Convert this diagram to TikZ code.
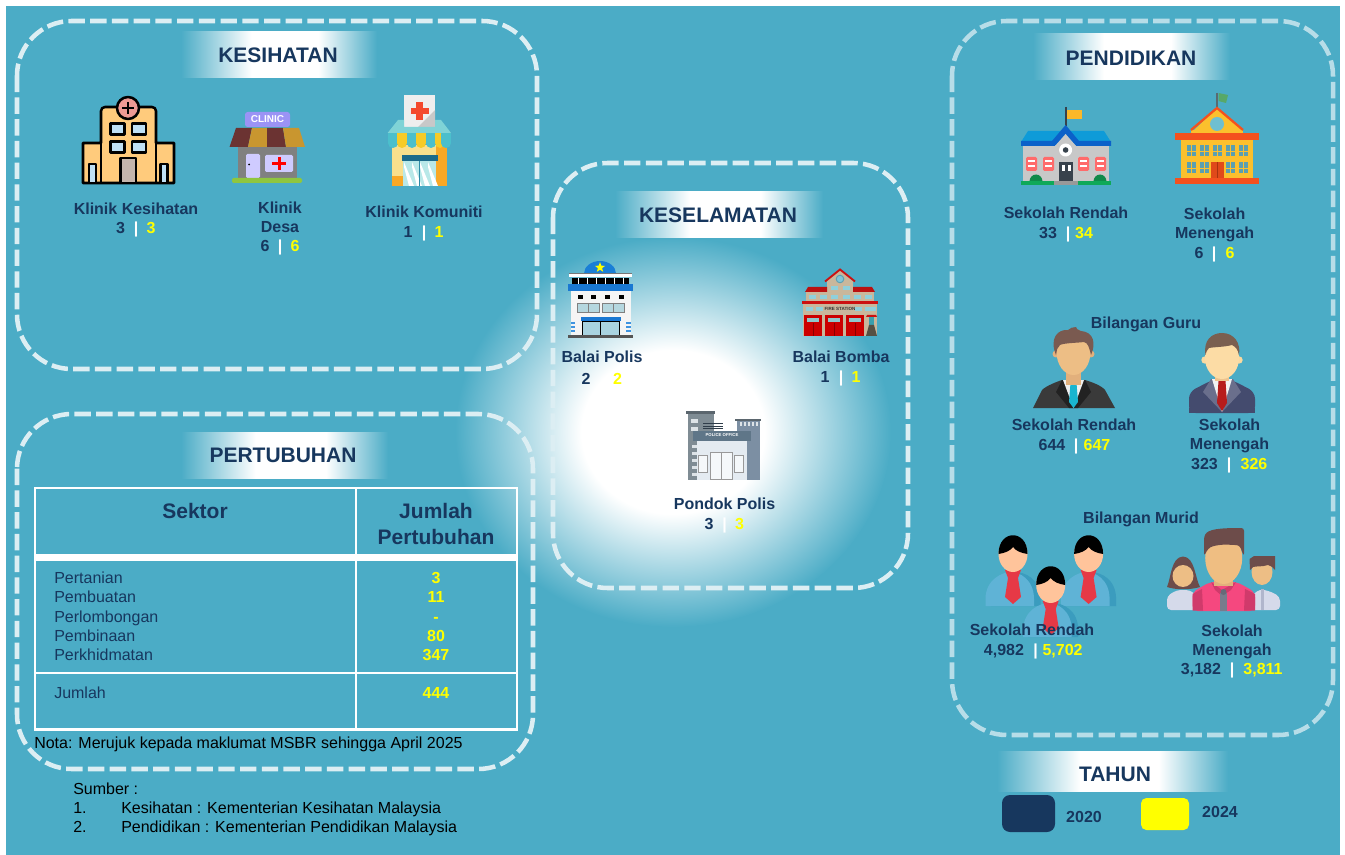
\documentclass[tikz,border=0pt]{standalone}
\usepackage{fontspec}
\setmainfont{Liberation Sans}
\usetikzlibrary{shapes.geometric}
\definecolor{bg}{HTML}{4BACC6}
\definecolor{navy}{HTML}{17375E}
\definecolor{yel}{HTML}{FFFF00}
\definecolor{dashA}{HTML}{DCEEF3}
\definecolor{dashB}{HTML}{B7DDE8}
\pgfdeclareradialshading{glow}{\pgfpoint{0bp}{0bp}}{color(0bp)=(white); color(10.5bp)=(white); color(16bp)=(white!62!bg); color(25bp)=(bg); color(50bp)=(bg)}
\pgfdeclarehorizontalshading{band}{100bp}{color(0bp)=(bg); color(25bp)=(bg); color(43bp)=(white); color(60bp)=(white); color(75bp)=(bg); color(100bp)=(bg)}
\tikzset{
  panel/.style={draw=dashA,line width=3.4pt,rounded corners=41pt,dash pattern=on 12.3pt off 4pt},
  bandbox/.style={shading=band,shading angle=0},
  head/.style={font=\bfseries\fontsize{15.75}{18}\selectfont,text=navy,inner sep=0pt,anchor=center},
  lab/.style={font=\bfseries\fontsize{12}{14.25}\selectfont,text=navy,inner sep=0pt,align=center,text depth=0pt,anchor=south},
  tab/.style={font=\fontsize{12}{14.25}\selectfont,text=navy,inner sep=0pt,text depth=0pt,anchor=south west},
  blk/.style={tab,text=black},
  valA/.style={lab},
  valB/.style={lab,text=yel},
  sepbar/.style={lab,text=white},
  thead/.style={font=\bfseries\fontsize{15.75}{19.5}\selectfont,text=navy,inner sep=0pt,align=center,text depth=0pt,anchor=south},
  tline/.style={draw=white,line width=2.2pt},
  outl/.style={draw=black,line width=1.9pt,line join=round},
  HTML/.code={\definecolor{tmpc}{HTML}{#1}\tikzset{color=tmpc}},
}
\newcommand{\cntline}[8]{% name, y, xa, a, xbar, xb, b, unused
  \node[valA] (#1a) at (#3,#2+5.7) {#4};
  \node[sepbar] (#1s) at (#5,#2+5.7) {|};
  \node[valB] (#1b) at (#6,#2+5.7) {#7};}
\newcommand{\student}[2]{%
 \begin{scope}[shift={(#1,#2)}]
  \fill[HTML=3B9CBE] (-22.5,52) -- (-22.5,45) .. controls (-22.5,25) and (-7,18) .. (2,18) .. controls (12,18) and (27.5,25) .. (27.5,45) -- (27.5,52) -- cycle;
  \fill[HTML=5FB3D6] (-27.5,52) -- (-27.5,45) .. controls (-27.5,25) and (-10,18) .. (-2,18) .. controls (6,18) and (21,25) .. (21,45) -- (21,52) -- cycle;
  \fill[HTML=E63946] (-8,16) -- (8,16) -- (5,24) -- (8,43) -- (0,50) -- (-8,43) -- (-5,24) -- cycle;
  \fill[HTML=FFC49B] (0,0) ellipse (14.5 and 18);
  \fill[black] (-14.5,0) .. controls (-14.5,-25) and (14.5,-25) .. (14.5,0) .. controls (8,-1) and (3,-3) .. (0,-7) .. controls (-3,-3) and (-8,-1) .. (-14.5,0) -- cycle;
 \end{scope}}
\begin{document}
\begin{tikzpicture}[x=0.75pt,y=-0.75pt]
\useasboundingbox (0,0) rectangle (1345,855);
\fill[white] (0,0) rectangle (1345,855);
\fill[bg] (6,6) rectangle (1340,855);
\path[shading=glow] (673,432) ellipse (218 and 195);
% panels
\draw[panel] (17,21) rectangle (537,369);
\draw[panel] (17,414) rectangle (533,769);
\draw[panel] (553,163) rectangle (908,588);
\draw[panel,draw=dashB] (952,21) rectangle (1333,735);
% title bands
\path[bandbox] (181,32) rectangle (377,78);
\path[bandbox] (181,432) rectangle (388,478);
\path[bandbox] (615,192) rectangle (823,238);
\path[bandbox] (1033,34) rectangle (1230,80);
\path[bandbox] (997,751) rectangle (1228,791);
\node[head] (tKes) at (278,55) {KESIHATAN};
\node[head] (tPer) at (283,455) {PERTUBUHAN};
\node[head] (tSel) at (718,215) {KESELAMATAN};
\node[head] (tPen) at (1131,58) {PENDIDIKAN};
\node[head] (tTah) at (1115,774) {TAHUN};

% ---------- hospital
\fill[HTML=FFCB7C,outl] (83,183) -- (83,143) -- (101,143) -- (101,115) [rounded corners=3pt] -- (101,107) -- (156,107) [sharp corners] -- (156,143) -- (174,143) -- (174,183) -- cycle;
\draw[outl] (101,143) -- (101,183) (156,143) -- (156,183);
\fill[HTML=EE9A94,outl] (128,108) circle (11);
\draw[outl] (128,102) -- (128,114) (122,108) -- (134,108);
\foreach \wx in {117.5,139}\foreach \wy in {129,147}{\fill[HTML=BFE0F5,outl] (\wx-7,\wy-5.5) rectangle (\wx+7,\wy+5.5);}
\fill[HTML=C4B5AC,outl] (120.5,158) rectangle (136,183);
\fill[HTML=BFE0F5,outl] (89,164) rectangle (96,183);
\fill[HTML=BFE0F5,outl] (160.5,164) rectangle (167.5,183);

% ---------- clinic
\fill[HTML=9B93F5,rounded corners=2pt] (245,112) rectangle (290,127);
\node[font=\bfseries\fontsize{7.5}{9}\selectfont,text=white,inner sep=0pt] (clinicTxt) at (267.5,119.5) {CLINIC};
\fill[HTML=808080] (238,147) rectangle (296.5,178);
\foreach \a/\b/\c/\d/\e in {236/252/229.5/248/6B3332,252/267/248/267/C9962F,267/283/267/286/6B3332,283/299/286/305/C9962F}{
  \fill[HTML=\e] (\a,128) -- (\b,128) -- (\d,147) -- (\c,147) -- cycle;}
\fill[HTML=CFCBFF,rounded corners=1pt] (246,154) rectangle (260,178);
\fill[black] (249,164.5) circle (1);
\fill[HTML=CFCBFF,rounded corners=1pt] (265,155) rectangle (293,172);
\fill[red] (277.5,157) rectangle (280.5,170);
\fill[red] (272,162) rectangle (286,165);
\fill[HTML=8FC63F,rounded corners=1pt] (232,178) rectangle (302,183);

% ---------- community clinic
\fill[HTML=F9DF8C] (392,145) rectangle (447,186);
\fill[HTML=F9A825] (392,176) rectangle (403,186);
\fill[HTML=F9A825] (436,145) -- (447,145) -- (447,186) -- (436,186) -- cycle;
\fill[HTML=EEEEEE] (404,95) rectangle (435,127);
\fill[HTML=C8C8C8] (435,110) -- (435,127) -- (418,127) -- cycle;
\fill[HTML=F4492D] (416,102) rectangle (423,120);
\fill[HTML=F4492D] (410.5,108) rectangle (428.5,114);
\fill[HTML=7FD3D6] (398,120) -- (404,120) -- (404,127) -- (435,127) -- (435,120) -- (441,120) -- (451,133) -- (387.6,133) -- cycle;
\foreach \sx/\sc in {393/4BBFCC,402/F6CB27,412/4BBFCC,421/F6CB27,431/4BBFCC,440/F6CB27,446/4BBFCC}{
  \fill[HTML=\sc] (\sx-5,133) rectangle (\sx+5,143);
  \fill[HTML=\sc] (\sx,143) circle (5);}
\fill[HTML=B9E8E8] (403,155) rectangle (436,186);
\foreach \sx in {404,412,420,428}{\fill[white] (\sx,167) -- (\sx+5,186) -- (\sx+10,186) -- (\sx,162) -- cycle;}
\draw[HTML=2D8CA8,line width=.6pt] (419.5,160) -- (419.5,186);
\fill[HTML=1C6A8A] (401.5,155) rectangle (437.5,161);

% ---------- police station
\fill[HTML=1A7FD6] (584,273.5) arc[start angle=180,end angle=360,x radius=16,y radius=12.5];
\node[star,star points=5,star point ratio=2.4,fill=yel,minimum size=8pt,inner sep=0pt] (starP) at (600,267.5) {};
\fill[HTML=F5F5F5] (571,291) rectangle (631,335);
\fill[white] (569,273) rectangle (632,277);
\fill[HTML=777777] (569,273) rectangle (632,274);
\fill[black] (572,278) rectangle (629,284);
\foreach \wx in {578,587,596.5,605,614,623}{\draw[white,line width=.5pt] (\wx,278) -- (\wx,284);}
\fill[HTML=1A78D2] (568,284) rectangle (633,291);
\foreach \wx in {580,593,607,621}{\fill[black] (\wx-2.5,295) rectangle (\wx+2.5,299.5);}
\foreach \xa/\xb in {577/599,602/624}{\fill[HTML=B5D7DF,draw=gray,line width=.5pt] (\xa,303) rectangle (\xb,312);\draw[gray,line width=.5pt] ({(\xa+\xb)/2},303) -- ({(\xa+\xb)/2},312);}
\fill[HTML=A9D3E0,draw=black,line width=.6pt] (582,321) rectangle (619,335);
\draw[black,line width=.6pt] (600.5,321) -- (600.5,335);
\fill[HTML=1A78D2] (581,317) rectangle (621,321);
\foreach \ty in {322,326,330}{\fill[HTML=3F94E0] (570.5,\ty) rectangle (575,\ty+2);\fill[HTML=3F94E0] (626,\ty) rectangle (630.5,\ty+2);}
\fill[HTML=555555] (568,335) rectangle (633,338);

% ---------- fire station
\fill[HTML=C9B79C] (827,281) -- (840,270) -- (853,281) -- (853,295) -- (827,295) -- cycle;
\draw[HTML=CC1111,line width=1.4pt] (825,281.5) -- (840,269.5) -- (855,281.5);
\draw[HTML=5AA0B5,fill=bg!70!white,line width=.7pt] (840,279) circle (3.8);
\fill[HTML=C9B79C] (806,292) rectangle (874,304);
\fill[HTML=C9B79C] (827,284) rectangle (853,292);
\fill[HTML=BB1111] (805,292) -- (808,287) -- (827,287) -- (827,292) -- cycle;
\fill[HTML=BB1111] (875,292) -- (872,287) -- (853,287) -- (853,292) -- cycle;
\foreach \wx in {812,823,834,846,857,868}{\fill[HTML=8FD0DC] (\wx-3.5,295) rectangle (\wx+3.5,299.5);}
\foreach \wx in {834,846}{\fill[HTML=8FD0DC] (\wx-3.5,286) rectangle (\wx+3.5,290);}
\fill[HTML=C9B79C] (803,304) rectangle (877,336);
\fill[HTML=CC1111] (802,301) rectangle (878,304);
\foreach \wx in {809,819,858,868,872}{\fill[HTML=8FD0DC] (\wx-3.5,307) rectangle (\wx+3.5,311);}
\node[font=\bfseries\fontsize{3.4}{4}\selectfont,text=black!80,inner sep=0pt] (fireTxt) at (840,309.3) {FIRE STATION};
\foreach \dx in {804,825,846}{\fill[HTML=CC0000] (\dx,315) rectangle (\dx+18,336);\fill[HTML=8FC8CC] (\dx+3,318) rectangle (\dx+15,322);\draw[HTML=880000,line width=.4pt] (\dx+9,323) -- (\dx+9,336);}
\fill[HTML=CC1111] (866,317) -- (867,315) -- (876,315) -- (877,317) -- cycle;
\fill[HTML=3AA0AE] (869,317) rectangle (874,325);
\fill[HTML=555044] (866,336) -- (869,325) -- (874,325) -- (877,336) -- cycle;

% ---------- police post
\fill[HTML=7F8C94] (688,413) rectangle (714,480);
\fill[HTML=5B666E] (686,411) rectangle (715,414);
\fill[HTML=DDE3E7] (691,419) rectangle (698,423);
\fill[HTML=DDE3E7] (691,427) rectangle (698,431);
\foreach \ty in {445,452,459,466,473}{\fill[HTML=DDE3E7] (692,\ty) rectangle (697,\ty+3);}
\fill[HTML=7C8FA3] (737,420) rectangle (760,480);
\fill[HTML=5B666E] (735,419) rectangle (761,421);
\foreach \wx in {740,744,748,752,756}{\fill[HTML=DDE3E7] (\wx,422) rectangle (\wx+2,426);}
\foreach \ty in {423,425.5,428,430.5}{\fill[HTML=2F3D4A] (703,\ty) rectangle (723,\ty+1.4);}
\fill[HTML=E4EBF1] (697,440) rectangle (747,480);
\fill[HTML=5F7688] (693,431) rectangle (751,441);
\node[font=\bfseries\fontsize{3.2}{4}\selectfont,text=white,inner sep=0pt] (policeTxt) at (722,435.5) {POLICE OFFICE};
\fill[HTML=F5F8FA,draw=gray!80,line width=.7pt] (710,452) rectangle (732,479);
\draw[gray!80,line width=.7pt] (721,452) -- (721,479);
\fill[HTML=F5F8FA,draw=gray!80,line width=.7pt] (698.5,455) rectangle (707.5,472);
\fill[HTML=F5F8FA,draw=gray!80,line width=.7pt] (734.5,455) rectangle (743.5,472);

% ---------- primary school
\fill[HTML=C8C8C8] (1023,145) rectangle (1109,182);
\draw[HTML=37424C,line width=1.4pt] (1065.6,107) -- (1065.6,126);
\fill[HTML=FBB829] (1067,110) rectangle (1082,119);
\fill[HTML=0E9BD8] (1028,131) -- (1104,131) -- (1111,142) -- (1021,142) -- cycle;
\fill[HTML=0B61C9] (1021,141) -- (1052,141) -- (1065.6,125) -- (1079,141) -- (1111,141) -- (1111,146) -- (1076,146) -- (1065.6,134) -- (1055,146) -- (1021,146) -- cycle;
\fill[HTML=C8C8C8] (1055,146) -- (1065.6,134) -- (1076,146) -- cycle;
\fill[white] (1065.6,150) circle (6.5);
\fill[HTML=37424C] (1065.6,150) circle (2.8);
\foreach \xa in {1026,1043,1078,1095}{\fill[HTML=FF6B6B,rounded corners=1pt] (\xa,157) rectangle (\xa+11,171);\fill[white] (\xa+2,160) rectangle (\xa+9,162.5);\fill[white] (\xa+2,165) rectangle (\xa+9,167.5);}
\fill[HTML=38424C] (1059,162) rectangle (1073,181);
\fill[white] (1061.5,165) rectangle (1064.5,171);
\fill[white] (1067.5,165) rectangle (1070.5,171);
\fill[HTML=999999] (1054,181) rectangle (1078,185);
\foreach \bx in {1036,1100}{\fill[HTML=0F8A4A] (\bx-6.5,181.5) arc[start angle=180,end angle=360,x radius=6.5,y radius=7];}
\fill[HTML=0FA958] (1021,181) rectangle (1054,185);
\fill[HTML=0FA958] (1078,181) rectangle (1111,185);

% ---------- secondary school
\draw[HTML=5A6A70,line width=1.2pt] (1217,93) -- (1217,108);
\fill[HTML=57A868] (1218.5,93) -- (1228,95) -- (1226,103) -- (1218.5,101) -- cycle;
\fill[HTML=FBC02D] (1217,108) -- (1243,130) -- (1191,133) -- cycle;
\fill[HTML=FBC02D] (1191,130) -- (1243,130) -- (1243,133) -- (1191,133) -- cycle;
\draw[HTML=F4511E,line width=1.7pt] (1191,130) -- (1217,108) -- (1243,130);
\fill[HTML=6FBFD0] (1217,124) circle (7);
\fill[HTML=FBC02D] (1180.5,140) rectangle (1253,178);
\fill[HTML=F4511E] (1175,133) rectangle (1259,140);
\fill[HTML=F4511E] (1175,178) rectangle (1259,184);
\foreach \wx in {1191,1204,1217,1230,1243}{\foreach \wy in {151,168}{
  \fill[HTML=5A9FB0] (\wx-4.5,\wy-5.5) rectangle (\wx+4.5,\wy+5.5);\draw[HTML=FBC02D,line width=.4pt] (\wx,\wy-5.5) -- (\wx,\wy+5.5) (\wx-4.5,\wy) -- (\wx+4.5,\wy);}}
\fill[HTML=E04A1A] (1210.5,162) rectangle (1224,178);
\draw[HTML=A8330F,line width=.4pt] (1217,162) -- (1217,178);

% ---------- teacher 1
\fill[HTML=3A3A3A] (1033,408) -- (1042,390) .. controls (1046,386) and (1056,382) .. (1062,380) -- (1085,380) .. controls (1092,382) and (1102,386) .. (1105,390) -- (1115,408) -- cycle;
\fill[HTML=222222] (1062,380) -- (1056,392) -- (1069,408) -- (1078,408) -- (1091,392) -- (1085,380) -- cycle;
\fill[HTML=EFEFEF] (1063,380) -- (1084,380) -- (1073.5,408) -- cycle;
\fill[HTML=19B5D0] (1070.5,383) -- (1076.5,383) -- (1078,402) -- (1073.5,408) -- (1069,402) -- cycle;
\fill[HTML=E2B07C] (1066,370) rectangle (1081,385);
\fill[HTML=E2B07C] (1056,354) circle (3.5);
\fill[HTML=E2B07C] (1091,354) circle (3.5);
\fill[HTML=EDBE85] (1073.5,352) ellipse (17 and 23);
\fill[HTML=7A5A50] (1056,355) .. controls (1049,338) and (1058,329) .. (1068,330) .. controls (1070,328) and (1073,327) .. (1076,327) .. controls (1076,329) and (1077,329) .. (1081,331) .. controls (1094,332) and (1096,344) .. (1091,355) .. controls (1089,347) and (1088,343) .. (1084,342) .. controls (1076,343) and (1064,343) .. (1060,345) .. controls (1057,347) and (1057,350) .. (1056,355) -- cycle;

% ---------- teacher 2
\fill[HTML=444B6E,rounded corners=5pt] (1189,413) -- (1189,392) -- (1212,380) -- (1232,380) -- (1255,392) -- (1255,413) -- cycle;
\fill[HTML=444B6E] (1189,408) rectangle (1255,413);
\fill[HTML=6A6F8C] (1211,379) -- (1203,392) -- (1222,412) -- (1241,392) -- (1233,379) -- cycle;
\fill[HTML=F2F2F2] (1212,379) -- (1232,379) -- (1222,412) -- cycle;
\fill[HTML=B71C1C] (1218.5,381) -- (1225.5,381) -- (1227,403) -- (1222,411) -- (1217,403) -- cycle;
\fill[HTML=EDC48E] (1215,370) rectangle (1229,381);
\fill[HTML=FAD9A0] (1205,360) circle (3.7);
\fill[HTML=FAD9A0] (1239,360) circle (3.7);
\fill[HTML=FCDCA5] (1222,358) ellipse (17 and 21);
\fill[HTML=7A5F50] (1205.5,355) .. controls (1203,340) and (1212,333) .. (1222,333) .. controls (1234,333) and (1241,343) .. (1239,355) .. controls (1238,350) and (1236,347) .. (1232,345) .. controls (1225,347) and (1214,347) .. (1209,348) .. controls (1207,350) and (1206,352) .. (1205.5,355) -- cycle;

% ---------- students
\student{1013}{554}
\student{1088.6}{554}
\student{1050.7}{585}

% ---------- family
\fill[HTML=D5DAEA,rounded corners=3pt] (1167,610) -- (1167,596) -- (1177,590) -- (1190,590) -- (1197,596) -- (1197,610) -- cycle;
\fill[HTML=D5DAEA,rounded corners=3pt] (1250,610) -- (1250,597) -- (1260,589) -- (1272,592) -- (1280,597) -- (1280,610) -- cycle;
\fill[HTML=B0B6CC] (1261,589) rectangle (1264,610);
\fill[HTML=6D4C4A] (1167,587) .. controls (1171,578) and (1171,557) .. (1183,556.5) .. controls (1195,557) and (1195,578) .. (1200,587) .. controls (1190,590) and (1176,590) .. (1167,587) -- cycle;
\fill[HTML=EDBE85] (1183,576) ellipse (10.5 and 11);
\fill[HTML=EDBE85] (1262,572) ellipse (10.5 and 13);
\fill[HTML=6D4C4A] (1250,570) -- (1249.5,559) -- (1254,556) -- (1275,556) -- (1275,570) .. controls (1272,566) and (1270,566) .. (1268,565) .. controls (1262,567) and (1256,566) .. (1253,567) -- cycle;
\fill[HTML=F5487F,rounded corners=4pt] (1192.5,611) -- (1192.5,592) -- (1210,582) -- (1237,582) -- (1255,592) -- (1255,611) -- cycle;
\fill[HTML=D03A6B] (1192.5,610.5) -- (1192.5,594) -- (1202,589) -- (1203,610.5) -- cycle;
\fill[HTML=D03A6B] (1255,610.5) -- (1255,594) -- (1245,589) -- (1244,610.5) -- cycle;
\fill[HTML=D03A6B] (1211,582) -- (1222,590) -- (1236,582) -- (1231,590) -- (1222,596) -- (1215,590) -- cycle;
\fill[HTML=777C8C] (1220,593) rectangle (1227,610.5);
\fill[HTML=666A78] (1223.5,592) circle (3);
\fill[HTML=E2B07C] (1214,575) rectangle (1233,586);
\fill[HTML=EFBE82] (1223.7,558) ellipse (18.5 and 26);
\fill[HTML=6D4C4A,rounded corners=2pt] (1204,556) -- (1204,537) .. controls (1208,529) and (1220,528) .. (1244,528) -- (1244,556) -- (1242,552) .. controls (1240,545) and (1236,545) .. (1232,545) .. controls (1222,544) and (1212,546) .. (1208,549) -- cycle;

% ---------- labels: KESIHATAN
\node[lab] (l1) at (136,214.7) {Klinik Kesihatan};
\cntline{c1}{228}{120.6}{3}{136}{151}{3}{}
\node[lab] (l2) at (280,233.2) {Klinik\\Desa};
\cntline{c2}{246.5}{265}{6}{280}{295}{6}{}
\node[lab] (l3) at (424,217.7) {Klinik Komuniti};
\cntline{c3}{232}{408}{1}{424}{439}{1}{}
% KESELAMATAN
\node[lab] (l4) at (602,362.7) {Balai Polis};
\node[valA] (c4a) at (586,384.7) {2};
\node[valB] (c4b) at (617.5,384.7) {2};
\node[lab] (l5) at (841,362.7) {Balai Bomba};
\cntline{c5}{377.5}{825}{1}{841}{856}{1}{}
\node[lab] (l6) at (724.5,509.7) {Pondok Polis};
\cntline{c6}{524.5}{709}{3}{724.6}{739.5}{3}{}
% PENDIDIKAN
\node[lab] (l7) at (1066,218.7) {Sekolah Rendah};
\cntline{c7}{233}{1048}{33}{1068}{1084}{34}{}
\node[lab] (l8) at (1214.6,238.7) {Sekolah\\Menengah};
\cntline{c8}{253}{1199}{6}{1214}{1230}{6}{}
\node[lab] (g1) at (1146,329) {Bilangan Guru};
\node[lab] (l9) at (1074,431) {Sekolah Rendah};
\cntline{c9}{445}{1052}{644}{1076}{1097}{647}{}
\node[lab] (l10) at (1229.5,450) {Sekolah\\Menengah};
\cntline{c10}{464}{1204.5}{323}{1229}{1254}{326}{}
\node[lab] (g2) at (1141,524) {Bilangan Murid};
\node[lab] (l11) at (1032,635.7) {Sekolah Rendah};
\cntline{c11}{650}{1004}{4,982}{1035.5}{1062.6}{5,702}{}
\node[lab] (l12) at (1232,655.7) {Sekolah\\Menengah};
\cntline{c12}{669}{1201}{3,182}{1232}{1263}{3,811}{}

% ---------- table
\draw[tline] (35,488) rectangle (517,729.5);
\draw[tline] (356,488) -- (356,729.5);
\draw[tline,line width=5.5pt] (35,557.5) -- (517,557.5);
\draw[tline] (35,673) -- (517,673);
\node[thead] (hS) at (195,518.5) {Sektor};
\node[thead] (hJ) at (436,545) {Jumlah\\Pertubuhan};
\foreach \ty/\tn/\tv/\nm in {578/Pertanian/3/a,597.5/Pembuatan/11/b,617/Perlombongan/-/c,636/Pembinaan/80/d,655/Perkhidmatan/347/e,693.5/Jumlah/444/f}{
  \node[tab] (r\nm) at (54,\ty+5.7) {\tn};
  \node[valB] (v\nm) at (436,\ty+5.7) {\tv};
}
\node[blk] (nota) at (34,748.7) {Nota: Merujuk kepada maklumat MSBR sehingga April 2025};
\node[blk] (sb) at (73,794.7) {Sumber :};
\node[blk] (s1n) at (73,813.7) {1.};
\node[blk] (s1t) at (121,813.7) {Kesihatan : Kementerian Kesihatan Malaysia};
\node[blk] (s2n) at (73,832.7) {2.};
\node[blk] (s2t) at (121,832.7) {Pendidikan : Kementerian Pendidikan Malaysia};

% ---------- legend
\fill[navy,rounded corners=6pt] (1002,795) rectangle (1055,832);
\fill[yel,rounded corners=4pt] (1141,798) rectangle (1189,830);
\node[lab] (y20) at (1084,822.7) {2020};
\node[lab] (y24) at (1220,817.7) {2024};
\end{tikzpicture}
\end{document}
